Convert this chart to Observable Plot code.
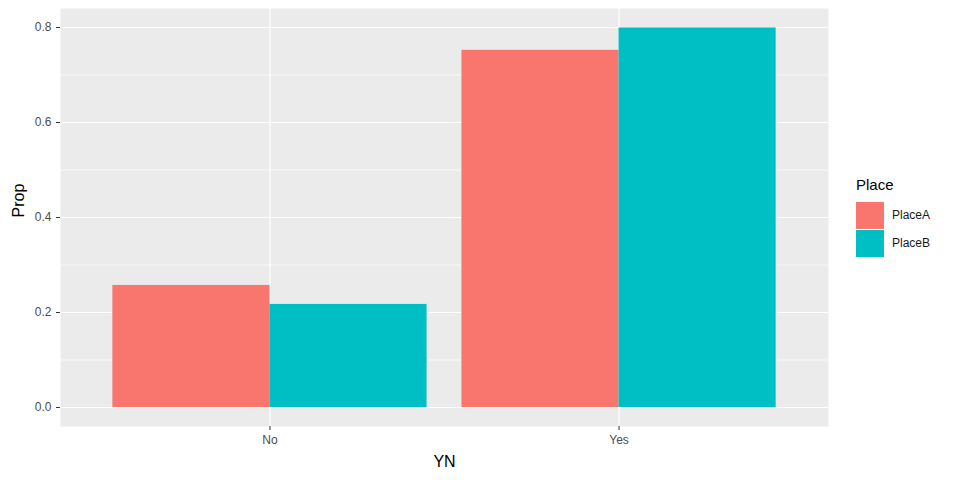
<!DOCTYPE html>
<html><head><meta charset="utf-8">
<script src="https://cdn.jsdelivr.net/npm/d3@7"></script>
<script src="https://cdn.jsdelivr.net/npm/@observablehq/plot@0.6"></script>
<style>
body{margin:0;background:#fff;font-family:"Liberation Sans",Arial,sans-serif;}
#wrap{position:relative;width:960px;height:480px;}
#legend{position:absolute;left:856px;top:176px;color:#000;}
#legend .t{font-size:15px;margin-bottom:8px;}
#legend .row{display:flex;align-items:center;height:28px;font-size:12px;color:#1a1a1a;}
#legend .sw{width:28px;height:27px;margin-right:8px;}
</style></head><body>
<div id="wrap"><div id="plot"></div><div id="legend"></div></div>
<script>
const answers = ["No", "Yes"];
const places = ["PlaceA", "PlaceB"];
const placeA = [0.257, 0.752];
const placeB = [0.217, 0.799];
const colors = ["#F8766D", "#00BFC4"];

const rows = [];
answers.forEach((a, i) => {
  rows.push({YN: a, Place: places[0], pos: i + 1, side: -1, Prop: placeA[i]});
  rows.push({YN: a, Place: places[1], pos: i + 1, side: 1, Prop: placeB[i]});
});

const plot = Plot.plot({
  width: 960, height: 480,
  marginLeft: 60, marginRight: 132, marginTop: 8, marginBottom: 54,
  style: {fontFamily: "Liberation Sans, Arial, sans-serif"},
  x: {domain: [0.4, 2.6], ticks: [1, 2], tickFormat: d => answers[d - 1], label: null, tickSize: 4},
  y: {domain: [-0.04, 0.84], ticks: [0, 0.2, 0.4, 0.6, 0.8], tickFormat: d3.format(".1f"), label: null, tickSize: 4},
  color: {domain: places, range: colors},
  marks: [
    Plot.frame({fill: "#EBEBEB", stroke: null}),
    Plot.ruleY([0.1, 0.3, 0.5, 0.7], {stroke: "white", strokeWidth: 0.6}),
    Plot.ruleY([0, 0.2, 0.4, 0.6, 0.8], {stroke: "white", strokeWidth: 1.2}),
    Plot.ruleX([1, 2], {stroke: "white", strokeWidth: 1.2}),
    Plot.rectY(rows, {
      x1: d => d.side < 0 ? d.pos - 0.45 : d.pos,
      x2: d => d.side < 0 ? d.pos : d.pos + 0.45,
      y1: 0, y2: "Prop", fill: "Place"
    }),
    Plot.axisX({ticks: [1, 2], tickFormat: d => answers[d - 1], tickSize: 4, stroke: "#333", fill: "#4D4D4D", fontSize: 12, label: null}),
    Plot.axisY({ticks: [0, 0.2, 0.4, 0.6, 0.8], tickFormat: d3.format(".1f"), tickSize: 4, stroke: "#333", fill: "#4D4D4D", fontSize: 12, label: null}),
    Plot.text(["YN"], {frameAnchor: "bottom", dy: 40, fontSize: 16, fill: "#000"}),
    Plot.text(["Prop"], {frameAnchor: "left", dx: -42, rotate: -90, fontSize: 16, fill: "#000"})
  ]
});
document.getElementById("plot").appendChild(plot);

const lg = document.getElementById("legend");
lg.innerHTML = '<div class="t">Place</div>' + places.map((p, i) =>
  `<div class="row"><div class="sw" style="background:${colors[i]}"></div>${p}</div>`).join("");
</script>
</body></html>
